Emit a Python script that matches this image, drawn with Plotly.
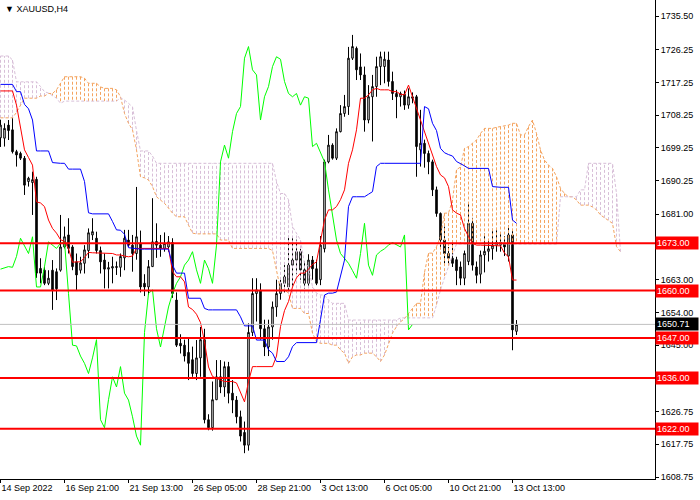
import plotly.graph_objects as go

# XAUUSD H4 candles (bar index 0..129)
opens = [1702, 1701.9, 1705.5, 1704.2, 1698.2, 1697.7, 1696.4, 1690, 1689.7, 1690.6,
         1666.1, 1665.6, 1662, 1665.6, 1665.2, 1665.6, 1672, 1675.3, 1672, 1667.9,
         1665.6, 1667.5, 1671, 1675.3, 1674.4, 1671, 1668.4, 1665.9, 1666.2, 1666.6,
         1666.4, 1669, 1673.9, 1672.5, 1670.2, 1673, 1662, 1661, 1666.6, 1673.5,
         1672.5, 1671.6, 1672, 1673.2, 1657.4, 1645.5, 1645, 1643, 1641, 1637.2,
         1641.5, 1646.5, 1624.5, 1622.3, 1630, 1636.3, 1633.5, 1639.1, 1631.8, 1629.9,
         1625.3, 1621, 1617.5, 1648.5, 1659.2, 1660, 1649.5, 1644.5, 1650, 1655.5,
         1659.2, 1662, 1661, 1667, 1668.4, 1670.7, 1665.7, 1662, 1668.4, 1666,
         1663, 1671.5, 1695.4, 1700, 1696.4, 1703.7, 1708.7, 1710.6, 1723.9, 1726.6,
         1721.5, 1719.3, 1706.9, 1713.3, 1716.1, 1721.6, 1721.6, 1723.4, 1717.5, 1714.2,
         1713.3, 1714, 1711, 1713.3, 1713.3, 1698.7, 1700.5, 1697.7, 1695.4, 1687.7,
         1681.2, 1673.9, 1670.2, 1668.9, 1668.5, 1666.5, 1663.4, 1668, 1678.5, 1666.5,
         1664.5, 1669.8, 1670.8, 1671.5, 1672.5, 1673.2, 1673, 1669.5, 1675.3, 1648.8]
highs = [1707, 1706, 1706.9, 1707.4, 1698.7, 1698.2, 1697, 1691.3, 1692.7, 1691.3,
         1668.9, 1666.6, 1665.6, 1668.4, 1666.1, 1680.8, 1677.6, 1679.9, 1672.5, 1670.2,
         1669.3, 1672.5, 1677.1, 1679.9, 1676.2, 1672.1, 1670.2, 1667.9, 1669.3, 1668,
         1670.2, 1676.7, 1676.7, 1675.3, 1688.5, 1676.5, 1664.5, 1668.4, 1685.4, 1678.5,
         1675.3, 1676, 1675, 1674.4, 1659.5, 1648, 1646.5, 1646.8, 1644.6, 1646.4,
         1650, 1649.5, 1626, 1635, 1640.9, 1640.9, 1640.5, 1640.4, 1635.4, 1631,
         1627, 1624, 1651, 1663.4, 1663.4, 1662, 1652, 1652, 1657, 1663,
         1663, 1667, 1674.8, 1674.8, 1674, 1671.5, 1668, 1670, 1669.5, 1668.5,
         1675, 1696, 1702.8, 1700.5, 1704.6, 1711, 1713.8, 1727, 1730.3, 1727.1,
         1725.2, 1721.6, 1716.5, 1719.3, 1724.3, 1725.7, 1725.7, 1725.7, 1720.2, 1715.2,
         1714.7, 1715, 1715.6, 1714.5, 1713.8, 1709.7, 1701.5, 1698.5, 1696, 1688.6,
         1681.5, 1677.6, 1672, 1673, 1669.3, 1668, 1671, 1684, 1680, 1668,
         1671, 1675.7, 1674, 1677, 1676.6, 1676, 1675, 1678, 1676.5, 1651.9]
lows = [1699.5, 1699.6, 1701.4, 1697.7, 1694.1, 1695.9, 1686.3, 1688.6, 1680.8, 1663.5,
        1662, 1661.5, 1661.5, 1654.7, 1657.4, 1665.2, 1671.6, 1670.2, 1665.6, 1660.2,
        1664.7, 1664.7, 1668.9, 1673.9, 1670.2, 1664.7, 1660.6, 1660.6, 1662, 1664.3,
        1663.8, 1665.6, 1672, 1665.2, 1668.5, 1659.5, 1658.5, 1658.8, 1666.5, 1669,
        1669.3, 1670.7, 1670.7, 1658, 1644.5, 1642.7, 1640.5, 1635.4, 1636.3, 1635.4,
        1636.3, 1623.5, 1621.6, 1621.5, 1629.9, 1631.8, 1630.8, 1629, 1626.3, 1623.5,
        1618.5, 1615.3, 1616, 1647.5, 1651.5, 1646.5, 1642, 1642, 1646.5, 1652.8,
        1657.5, 1659.5, 1659.3, 1661.1, 1664.5, 1663, 1660.5, 1661, 1663, 1661.5,
        1661.5, 1670.5, 1695, 1696, 1695.9, 1703.5, 1707.8, 1708.3, 1723.4, 1717.9,
        1717.9, 1703.7, 1706, 1701, 1713.3, 1716.5, 1717, 1716.1, 1712.4, 1707.4,
        1710.6, 1709.7, 1710, 1711.5, 1691.3, 1694.1, 1693.8, 1692, 1686, 1680.3,
        1672, 1667.5, 1667.5, 1666.5, 1661.5, 1661.5, 1661.5, 1667, 1665.5, 1662,
        1662, 1665, 1668, 1668.5, 1670.7, 1670.7, 1669.5, 1668, 1643.6, 1647.8]
closes = [1705.5, 1704.6, 1704, 1698.2, 1697.3, 1696.4, 1689, 1690.9, 1690.5, 1664.8,
          1664.8, 1662, 1663.4, 1660.2, 1660.5, 1672, 1674.8, 1671.6, 1666.6, 1664.3,
          1667.6, 1671.2, 1675.9, 1676.2, 1671, 1667.9, 1665.9, 1666.3, 1666.6, 1666.4,
          1669.4, 1674.4, 1672.5, 1670.2, 1674.8, 1661, 1661, 1666.6, 1673.4, 1672.5,
          1671.6, 1673, 1673.4, 1659.2, 1645, 1644.8, 1642, 1640, 1637.2, 1641.5,
          1646.5, 1624.5, 1622.3, 1630, 1636.3, 1633.5, 1639.1, 1631.8, 1629.9, 1625.3,
          1620, 1617.5, 1648.5, 1659.2, 1660.2, 1649.5, 1644.5, 1650, 1655.5, 1659.2,
          1662, 1663.8, 1667, 1668.4, 1670.7, 1665.7, 1662, 1668.4, 1666, 1662,
          1672.5, 1695.4, 1700, 1696.4, 1703.7, 1708.7, 1710.6, 1723.9, 1727.1, 1720.7,
          1719.3, 1706.9, 1713.3, 1716.1, 1721.6, 1724.3, 1723.6, 1717.5, 1714.2, 1713.3,
          1714.2, 1711, 1713.3, 1712.9, 1699.6, 1700.5, 1697.7, 1695.4, 1687.7, 1681.2,
          1673.9, 1670.2, 1668.9, 1667.5, 1665.5, 1663.4, 1670.2, 1678.5, 1667, 1664.2,
          1669.8, 1670.8, 1671.5, 1672.5, 1673.2, 1672.5, 1672, 1675.3, 1649.2, 1650.7]

# Ichimoku lines as drawn on the chart
tenkan = [1714.9, 1714.9, 1714.9, 1714.9, 1711, 1705, 1698.7, 1696.6, 1694.5, 1684.4,
          1684.1, 1683.1, 1679.4, 1677.1, 1675.8, 1674, 1673.5, 1671.6, 1667.8, 1667.9,
          1667.9, 1669.1, 1670.5, 1670.4, 1670.4, 1670.4, 1670.4, 1670.4, 1670.2, 1669.8,
          1669.8, 1669.5, 1669.3, 1669.5, 1671.6, 1671.6, 1671.6, 1671.6, 1671.6, 1671.6,
          1671.6, 1671.6, 1671.6, 1665.2, 1663.8, 1663.8, 1662.4, 1655.5, 1654.8, 1653.5,
          1651.2, 1646, 1639, 1636.4, 1635.8, 1635.4, 1635, 1635, 1635, 1634.6,
          1631.8, 1629.4, 1635, 1639.1, 1639.1, 1639.1, 1639.1, 1639.1, 1639.1, 1642,
          1650.1, 1654.5, 1657, 1661, 1663.5, 1664.8, 1664.8, 1665.9, 1667.2, 1667.9,
          1673.9, 1679.4, 1682.2, 1682.2, 1683.1, 1685, 1687.7, 1695, 1698.7, 1704.2,
          1712.9, 1712.9, 1713.8, 1715.2, 1715.6, 1715.2, 1715.2, 1715.2, 1714.7, 1714.7,
          1714, 1713.8, 1716.5, 1713.3, 1709.7, 1706.9, 1703.2, 1700.5, 1697.3, 1694.1,
          1691.8, 1691, 1688.6, 1682.2, 1681.3, 1680.8, 1677.1, 1674.8, 1673, 1672.5,
          1672.5, 1672.5, 1672.5, 1672.5, 1672.5, 1672.3, 1670.3, 1669.3, 1662.9, 1662.9]
kijun = [1716.7, 1716.7, 1716.7, 1716.7, 1714.7, 1714.7, 1711.2, 1710, 1706.9, 1698.4,
         1698.4, 1698.4, 1698.4, 1695.2, 1695, 1695, 1695, 1693.4, 1693.4, 1693.4,
         1693.4, 1690, 1681.4, 1681.1, 1681.1, 1681.1, 1681.1, 1681.1, 1679, 1676.7,
         1676.6, 1675.5, 1671.8, 1671.6, 1671.4, 1671.4, 1671.4, 1671.4, 1671.4, 1671.4,
         1671.4, 1671.4, 1671.4, 1667, 1664.8, 1664.8, 1664.8, 1657.9, 1657.9, 1657.9,
         1657.9, 1655.1, 1654.7, 1654.7, 1654.7, 1654.7, 1654.7, 1654.7, 1654.7, 1654.7,
         1652.8, 1650.3, 1650.3, 1650.3, 1646.4, 1646.4, 1646.4, 1643.7, 1642.8, 1640.5,
         1640.5, 1640.5, 1641.8, 1644.6, 1645.7, 1645.7, 1645.7, 1645.7, 1645.7, 1645.7,
         1652, 1658.8, 1659.3, 1659.3, 1659.6, 1663.8, 1668.4, 1683.1, 1685.8, 1685.8,
         1685.8, 1685.8, 1686.5, 1687.2, 1694.1, 1695, 1695, 1695, 1695, 1695,
         1695, 1695, 1695, 1695, 1695, 1695, 1710.6, 1710, 1706, 1704,
         1699.1, 1697.9, 1697.4, 1697, 1695.5, 1695, 1694.3, 1693.6, 1693.6, 1693.6,
         1693.6, 1693.6, 1693.6, 1688.6, 1688.4, 1688.4, 1688.4, 1688.4, 1679.4, 1678.5]
# Senkou spans, shifted 26 bars ahead (bar index 0..155)
span_a = [1707.5, 1707.5, 1707.5, 1707.5, 1709, 1711, 1712.9, 1712.9, 1712.9, 1712.9,
          1713.5, 1713.5, 1714.2, 1714.2, 1715.2, 1717, 1718.8, 1718.8, 1718.8, 1718.8,
          1718.8, 1718.4, 1717, 1717, 1717, 1716, 1715.6, 1715.6, 1715.6, 1715.2,
          1713.3, 1708.7, 1706, 1704.2, 1698.7, 1691.3, 1691, 1690.4, 1688.6, 1685.8,
          1684.9, 1684, 1682.7, 1681.3, 1680.3, 1680.3, 1680.3, 1678, 1675.8, 1675.6,
          1675.6, 1675.6, 1675.6, 1675.6, 1675.6, 1673.9, 1673.9, 1673.9, 1671.6, 1671.6,
          1671.6, 1671.6, 1671.6, 1671.6, 1671.6, 1671.6, 1671.6, 1671.6, 1671, 1666,
          1660.2, 1660.2, 1659.3, 1655.1, 1655.1, 1655.1, 1653.7, 1653.7, 1648.3, 1646,
          1645.5, 1645.5, 1645.5, 1645, 1645, 1643.7, 1642.8, 1640, 1641.8, 1642.3,
          1642.3, 1642.8, 1642.8, 1642.8, 1641.8, 1640.5, 1642.3, 1645.5, 1648.3, 1650.1,
          1651.4, 1652.3, 1653.7, 1655.1, 1656.5, 1656.5, 1665, 1670.3, 1670.3, 1672.1,
          1674.8, 1681.3, 1681.3, 1684.9, 1693.2, 1694, 1699.1, 1699.6, 1700.5, 1701.4,
          1703.2, 1704.6, 1704.6, 1704.6, 1704.9, 1705.1, 1705.1, 1705.5, 1706, 1706,
          1702.8, 1702.8, 1705.1, 1706.9, 1703.2, 1698.7, 1695.9, 1694.5, 1693.6, 1691.3,
          1688.1, 1686.7, 1685.8, 1685.8, 1684.9, 1683.5, 1683.5, 1683.5, 1683, 1682.2,
          1680.8, 1680, 1679.4, 1678.5, 1672.1, 1670.7]
span_b = [1724.5, 1724.5, 1724.5, 1723.4, 1717.4, 1717.4, 1717.4, 1717.4, 1717.4, 1717.4,
          1716.1, 1714.7, 1714.3, 1713.7, 1712.9, 1711.5, 1712.1, 1712.1, 1712.1, 1712.1,
          1712.1, 1712.1, 1712.1, 1712.1, 1712.1, 1712.1, 1712.1, 1712.1, 1712.1, 1712.1,
          1713, 1712.4, 1711.5, 1710.5, 1704, 1698.4, 1698.4, 1698.4, 1697, 1695,
          1695, 1695, 1695, 1695, 1695, 1695, 1695, 1695, 1695, 1695,
          1695, 1695, 1695, 1695, 1695, 1695, 1695, 1695, 1695, 1695,
          1695, 1695, 1695, 1695, 1695, 1695, 1695, 1695, 1695, 1690,
          1686.7, 1686.7, 1685, 1677.6, 1675.8, 1673.9, 1667.5, 1666.6, 1661.1, 1659.3,
          1658.8, 1658.8, 1657.4, 1656.5, 1656.5, 1656.5, 1656.5, 1651.9, 1651.9, 1651.9,
          1651.9, 1651.9, 1651.9, 1651.9, 1651.9, 1651.9, 1651.9, 1651.9, 1651.9, 1651.9,
          1652.5, 1652.5, 1652.5, 1652.5, 1652.5, 1652.5, 1652.5, 1652.5, 1652.5, 1656,
          1660.2, 1663.5, 1666.6, 1670, 1672.8, 1672.8, 1672.8, 1672.8, 1672.8, 1672.8,
          1672.8, 1672.8, 1672.8, 1672.8, 1672.8, 1672.8, 1672.8, 1672.8, 1672.8, 1672.8,
          1672.8, 1672.8, 1672.8, 1672.8, 1672.8, 1672.8, 1672.8, 1672.8, 1672.8, 1672.8,
          1685.8, 1685.8, 1685.8, 1685.8, 1685.8, 1687.7, 1687.7, 1695, 1695, 1695,
          1695, 1695, 1695, 1695, 1686.7, 1670.7]

levels = [1673.00, 1660.00, 1647.00, 1636.00, 1622.00]
last_price = 1650.71

# price scale labels that are not hidden behind the level tags
price_ticks = [1735.50, 1726.25, 1717.25, 1708.25, 1699.25, 1690.25, 1681.00,
               1663.00, 1654.00, 1645.00, 1626.75, 1617.75, 1608.75]
date_ticks = [0, 16, 32, 48, 64, 80, 96, 112, 128]
date_labels = ["14 Sep 2022", "16 Sep 21:00", "21 Sep 13:00", "26 Sep 05:00", "28 Sep 21:00",
               "3 Oct 13:00", "6 Oct 05:00", "10 Oct 21:00", "13 Oct 13:00"]

FONT = "Liberation Sans, DejaVu Sans, sans-serif"
bars = list(range(len(closes)))
cloud_bars = list(range(len(span_a)))

# cloud hatching: one dotted vertical stroke per bar, colour by which span is on top
up_x, up_y, dn_x, dn_y = [], [], [], []
for i in cloud_bars:
    if span_a[i] >= span_b[i]:
        up_x += [i, i, None]
        up_y += [span_a[i], span_b[i], None]
    else:
        dn_x += [i, i, None]
        dn_y += [span_a[i], span_b[i], None]

fig = go.Figure()
fig.add_trace(go.Scatter(x=up_x, y=up_y, mode="lines",
                         line=dict(color="#F4A460", width=1, dash="3px,2px")))
fig.add_trace(go.Scatter(x=dn_x, y=dn_y, mode="lines",
                         line=dict(color="#D8BFD8", width=1, dash="3px,2px")))
fig.add_trace(go.Scatter(x=cloud_bars, y=span_a, mode="lines",
                         line=dict(color="#F4A460", width=1, dash="3px,2px")))
fig.add_trace(go.Scatter(x=cloud_bars, y=span_b, mode="lines",
                         line=dict(color="#D8BFD8", width=1, dash="3px,2px")))

# chikou = close shifted back 26 bars
fig.add_trace(go.Scatter(x=bars[:len(closes) - 26], y=closes[26:], mode="lines",
                         line=dict(color="#00FF00", width=1)))
fig.add_trace(go.Scatter(x=bars, y=tenkan, mode="lines", line=dict(color="#FF0000", width=1)))
fig.add_trace(go.Scatter(x=bars, y=kijun, mode="lines", line=dict(color="#0000FF", width=1)))

fig.add_trace(go.Candlestick(
    x=bars, open=opens, high=highs, low=lows, close=closes,
    increasing=dict(line=dict(color="black", width=1), fillcolor="white"),
    decreasing=dict(line=dict(color="black", width=1), fillcolor="black"),
    whiskerwidth=0, hoverinfo="skip"))

# horizontal levels + price line
for lv in levels:
    fig.add_shape(type="line", xref="paper", x0=0, x1=1, y0=lv, y1=lv,
                  line=dict(color="#FF0000", width=2), layer="above")
fig.add_shape(type="line", xref="paper", x0=0, x1=1, y0=last_price, y1=last_price,
              line=dict(color="#C0C0C0", width=1), layer="above")

for lv in levels:
    fig.add_annotation(x=1, xref="paper", xanchor="left", xshift=0, y=lv, yref="y",
                       text=f"{lv:.2f}", showarrow=False, bgcolor="#FF0000",
                       font=dict(family=FONT, size=9, color="white"),
                       width=40, align="left", borderpad=1)
fig.add_annotation(x=1, xref="paper", xanchor="left", xshift=0, y=last_price, yref="y",
                   text=f"{last_price:.2f}", showarrow=False, bgcolor="black",
                   font=dict(family=FONT, size=9, color="white"),
                   width=40, align="left", borderpad=1)

fig.add_annotation(x=0.005, y=0.995, xref="paper", yref="paper", xanchor="left", yanchor="top",
                   text="▼ XAUUSD,H4", showarrow=False,
                   font=dict(family=FONT, size=9, color="black"))

fig.update_layout(
    width=700, height=500, showlegend=False,
    margin=dict(l=0, r=45, t=0, b=21, autoexpand=False),
    paper_bgcolor="white", plot_bgcolor="white",
    boxgap=0.45,
    font=dict(family=FONT, size=9, color="black"),
    # 4 px per bar, bar centres on pixel centres
    xaxis=dict(range=[-0.125, 163.625], tickmode="array", tickvals=date_ticks,
               ticktext=date_labels, ticks="outside", ticklen=3, tickcolor="black",
               ticklabelposition="outside right", showline=True, linecolor="black",
               linewidth=1, showgrid=False, zeroline=False, automargin=False,
               rangeslider=dict(visible=False)),
    yaxis=dict(range=[1608.2, 1739.9], side="right", tickmode="array",
               tickvals=price_ticks, ticktext=[f"{v:.2f}" for v in price_ticks],
               ticks="outside", ticklen=3, tickcolor="black", showline=True,
               linecolor="black", linewidth=1, showgrid=False, zeroline=False,
               automargin=False),
)

# page body has a default 8px margin; drop it so the chart fills the window
fig.write_html("out.html", config={"displayModeBar": False},
               post_script="document.body.style.margin='0';")
